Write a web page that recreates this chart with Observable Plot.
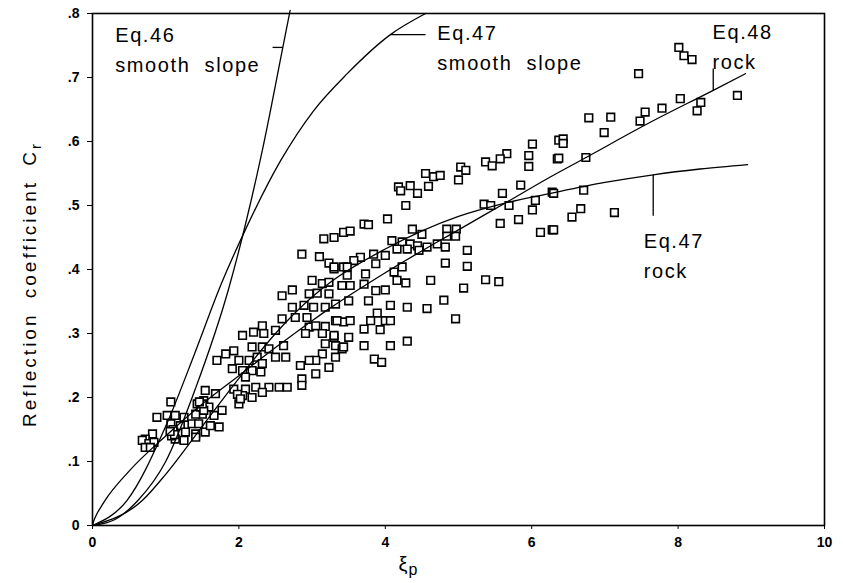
<!DOCTYPE html>
<html><head><meta charset="utf-8">
<script src="https://cdn.jsdelivr.net/npm/d3@7"></script>
<script src="https://cdn.jsdelivr.net/npm/@observablehq/plot@0.6"></script>
<style>
body{margin:0;background:#fff;}
#chart svg{display:block;}
g[aria-label="text"] text{letter-spacing:1.6px;word-spacing:7px;}
g[aria-label="x-axis tick label"] text, g[aria-label="y-axis tick label"] text{font-weight:bold;}
</style></head><body><div id="chart"></div>
<script>
// ---- axis ticks ----
const xTicks = [0, 2, 4, 6, 8, 10];
const yTicks = [0, 0.1, 0.2, 0.3, 0.4, 0.5, 0.6, 0.7, 0.8];

const obsXi = [
 2.86,3.10,3.23,3.30,3.43,3.00,3.14,3.23,3.41,2.59,2.73,2.96,3.07,3.23,2.73,2.89,3.02,3.18,3.32,2.59,
 2.77,2.93,2.96,3.05,3.18,3.32,3.43,2.32,2.20,2.05,2.34,2.50,2.91,3.14,3.30,2.18,1.93,1.82,1.70,2.32,
 2.41,2.61,3.18,3.32,3.41,3.14,3.32,3.05,2.96,3.23,3.05,2.84,2.86,2.86,2.00,2.14,2.25,2.32,2.50,2.64,
 1.91,2.05,2.18,2.30,2.09,1.93,2.09,2.23,2.41,2.55,2.66,2.05,2.00,2.18,2.32,1.54,1.68,1.52,1.43,1.59,
 1.77,1.66,1.50,1.41,1.07,0.88,1.02,1.13,1.25,1.36,1.07,1.20,1.27,1.45,1.54,1.41,1.73,1.61,1.11,1.13,
 1.25,1.41,0.82,0.72,0.68,0.77,0.84,0.72,0.79,1.08,1.10,1.12,1.06,1.48,1.52,1.50,1.46,1.98,2.02,
 6.01,5.96,5.96,6.37,6.35,5.66,5.57,5.37,5.46,5.03,5.10,5.00,4.55,4.66,4.75,4.59,4.18,4.34,4.44,4.21,
 4.28,4.03,3.71,3.77,3.43,3.52,3.30,4.37,4.50,4.84,4.97,4.84,4.96,4.09,4.23,4.34,4.44,4.46,4.30,4.16,
 3.66,3.84,3.57,3.87,4.00,3.48,3.30,4.71,4.82,4.57,5.12,4.82,5.12,4.12,4.23,3.73,3.48,3.41,3.52,3.71,
 3.87,4.00,4.16,4.28,4.62,3.50,3.77,5.07,5.37,5.55,5.82,6.01,6.05,5.60,5.85,6.28,5.57,6.12,6.28,4.80,
 4.57,4.30,4.07,4.96,3.89,4.00,4.07,3.80,3.93,3.71,3.52,3.34,3.30,3.50,4.07,4.30,3.71,3.43,5.35,5.44,
 5.69,
 8.01,8.08,8.19,7.46,8.81,8.31,8.26,8.03,7.78,7.55,7.48,6.78,7.08,6.99,6.43,6.43,6.37,6.74,6.30,6.71,
 6.67,6.55,7.13,6.30,
 3.16,3.85,3.95
];
const obsCr = [
 0.424,0.420,0.410,0.401,0.404,0.383,0.378,0.380,0.375,0.359,0.368,0.362,0.363,0.362,0.341,0.344,0.341,0.341,0.346,0.323,
 0.325,0.325,0.310,0.312,0.311,0.320,0.318,0.312,0.302,0.297,0.300,0.305,0.300,0.300,0.294,0.279,0.273,0.268,0.258,0.279,
 0.276,0.281,0.284,0.281,0.276,0.268,0.263,0.258,0.258,0.247,0.237,0.250,0.229,0.219,0.258,0.258,0.263,0.253,0.263,0.263,
 0.245,0.242,0.242,0.240,0.232,0.213,0.213,0.216,0.216,0.216,0.216,0.203,0.190,0.200,0.208,0.211,0.206,0.195,0.190,0.185,
 0.180,0.172,0.174,0.174,0.193,0.169,0.172,0.172,0.169,0.159,0.159,0.156,0.146,0.159,0.146,0.143,0.154,0.156,0.146,0.135,
 0.133,0.138,0.143,0.135,0.133,0.128,0.130,0.122,0.122,0.140,0.150,0.142,0.147,0.185,0.180,0.190,0.193,0.205,0.198,
 0.596,0.578,0.561,0.602,0.573,0.581,0.573,0.568,0.562,0.560,0.555,0.540,0.550,0.545,0.547,0.530,0.529,0.531,0.519,0.523,
 0.500,0.479,0.471,0.470,0.458,0.460,0.450,0.463,0.455,0.463,0.463,0.452,0.452,0.445,0.443,0.440,0.437,0.430,0.432,0.432,
 0.419,0.424,0.414,0.409,0.422,0.404,0.404,0.440,0.435,0.435,0.430,0.410,0.405,0.396,0.404,0.393,0.391,0.375,0.375,0.377,
 0.367,0.368,0.383,0.379,0.383,0.351,0.351,0.371,0.384,0.381,0.478,0.493,0.508,0.519,0.532,0.521,0.472,0.458,0.462,0.352,
 0.339,0.341,0.344,0.323,0.332,0.320,0.320,0.320,0.306,0.307,0.320,0.320,0.297,0.294,0.281,0.288,0.281,0.279,0.502,0.500,
 0.500,
 0.747,0.734,0.728,0.706,0.672,0.661,0.648,0.667,0.652,0.646,0.632,0.637,0.638,0.614,0.604,0.597,0.574,0.575,0.519,0.524,
 0.495,0.482,0.489,0.462,
 0.448,0.260,0.255
];

// ---- curves ----
const eq46Xi = [0, 0.3, 0.62, 1.0, 1.41, 1.86, 2.08, 2.32, 2.6, 2.7];
const eq46Cr = [0, 0.009, 0.039, 0.10, 0.215, 0.37, 0.466, 0.586, 0.747, 0.805];
const eq47sXi = [0, 0.47, 1.0, 1.4, 1.75, 2.08, 2.57, 3.02, 3.48, 4.07, 4.55];
const eq47sCr = [0, 0.039, 0.155, 0.27, 0.375, 0.46, 0.57, 0.648, 0.706, 0.767, 0.80];
const eq48Xi = [0, 0.02, 0.05, 0.11, 0.17, 0.5, 1.0, 1.5, 2.0, 2.5, 3.0, 3.25, 4.0, 5.0, 5.61, 6.26, 6.71, 7.62, 8.48, 8.92];
const eq48Cr = [0, 0.008, 0.016, 0.028, 0.039, 0.085, 0.14, 0.19, 0.234, 0.278, 0.32, 0.34, 0.395, 0.462, 0.502, 0.545, 0.573, 0.63, 0.68, 0.706];
const eq47rXi = [0, 0.68, 1.0, 1.5, 2.0, 2.5, 3.0, 3.25, 4.0, 5.0, 5.61, 6.26, 7.0, 7.66, 8.3, 8.95];
const eq47rCr = [0, 0.039, 0.08, 0.155, 0.23, 0.30, 0.357, 0.38, 0.432, 0.483, 0.503, 0.519, 0.536, 0.548, 0.557, 0.564];

// ---- annotations ----
const labelText = ["Eq.46\nsmooth slope", "Eq.47\nsmooth slope", "Eq.48\nrock", "Eq.47\nrock"];
const labelXi = [0.31, 4.71, 8.47, 7.53];
const labelCr = [0.788, 0.792, 0.794, 0.467];
const leaderX1 = [2.46, 4.07, 8.48, 7.66];
const leaderX2 = [2.60, 4.55, 8.48, 7.66];
const leaderY1 = [0.747, 0.767, 0.714, 0.548];
const leaderY2 = [0.747, 0.767, 0.680, 0.484];

const points = obsXi.map((x, i) => ({xi: x, cr: obsCr[i]}));
const toRows = (xs, ys) => xs.map((x, i) => ({xi: x, cr: ys[i]}));
const curveSets = [toRows(eq46Xi, eq46Cr), toRows(eq47sXi, eq47sCr), toRows(eq48Xi, eq48Cr), toRows(eq47rXi, eq47rCr)];
const labels = labelText.map((t, i) => ({t, xi: labelXi[i], cr: labelCr[i]}));
const leaders = leaderX1.map((x, i) => ({x1: x, x2: leaderX2[i], y1: leaderY1[i], y2: leaderY2[i]}));

const yFmt = d => d === 0 ? "0" : d3.format(".1f")(d).replace(/^0/, "");

const plot = Plot.plot({
  width: 843, height: 583,
  marginLeft: 92, marginRight: 19, marginTop: 13, marginBottom: 58,
  style: {fontFamily: "'Liberation Sans', Arial, sans-serif", background: "#fff", color: "#000", fontSize: "14px"},
  x: {domain: [0, 10]},
  y: {domain: [0, 0.8]},
  marks: [
    Plot.axisX({ticks: xTicks, tickSize: 4, tickPadding: 8, fontSize: 14, label: null}),
    Plot.axisY({ticks: yTicks, tickSize: 5, tickPadding: 8, fontSize: 14, tickFormat: yFmt, label: null}),
    Plot.dot(points, {x: "xi", y: "cr", symbol: "square", r: 4.3, stroke: "#000", fill: "#fff", strokeWidth: 1.6}),
    ...curveSets.map(c => Plot.line(c, {x: "xi", y: "cr", curve: "monotone-x", stroke: "#000", strokeWidth: 1.3})),
    Plot.link(leaders, {x1: "x1", x2: "x2", y1: "y1", y2: "y2", stroke: "#000", strokeWidth: 1.3}),
    Plot.frame({stroke: "#000", strokeWidth: 1.6}),
    Plot.text(labels, {x: "xi", y: "cr", text: "t", textAnchor: "start", lineAnchor: "top", fontSize: 20, lineHeight: 1.5, fill: "#000"})
  ]
});
document.getElementById("chart").appendChild(plot);

// axis titles with subscripts
const svg = d3.select(plot);
const yt = svg.append("text")
  .attr("transform", "translate(36,284) rotate(-90)")
  .attr("text-anchor", "middle")
  .style("font-family", "'Liberation Sans', Arial, sans-serif")
  .style("font-size", "19px").style("letter-spacing", "3px").style("word-spacing", "6px")
  .text("Reflection coefficient C");
yt.append("tspan").attr("dy", 5).style("font-size", "15px").text("r");
const xt = svg.append("text")
  .attr("x", 408).attr("y", 571)
  .style("font-family", "'Liberation Sans', Arial, sans-serif")
  .style("font-size", "20px")
  .text("ξ");
xt.append("tspan").attr("dy", 4).attr("dx", 1).style("font-size", "16px").text("p");
</script>
</body></html>
